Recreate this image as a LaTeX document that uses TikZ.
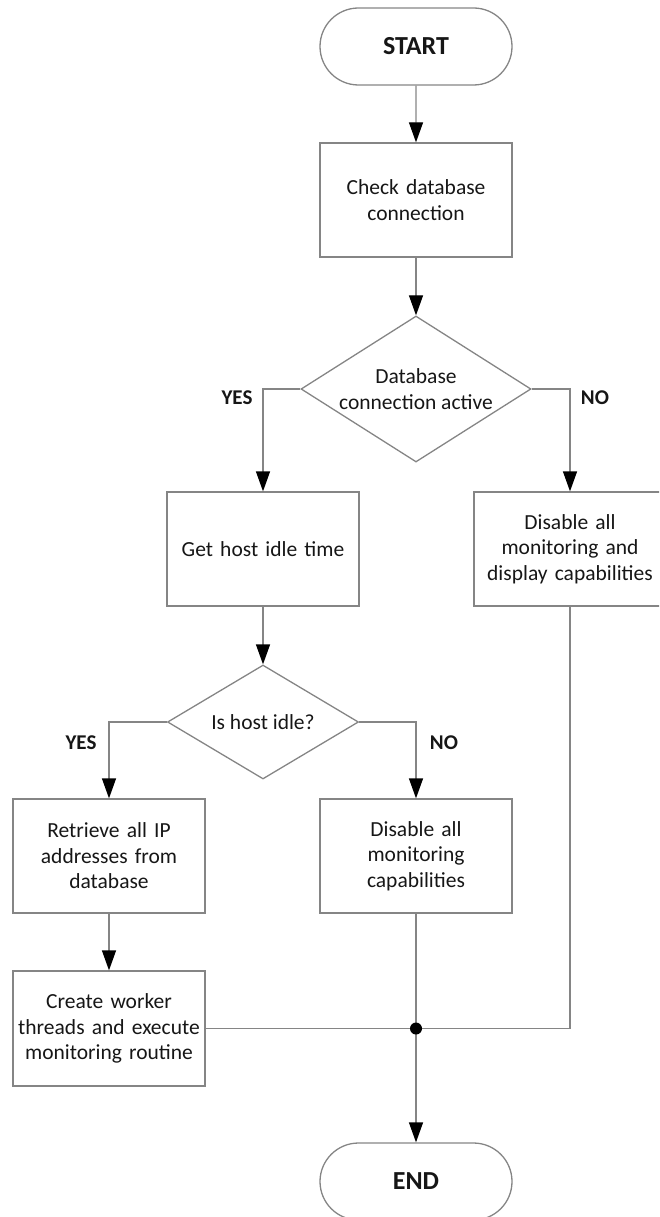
\documentclass[tikz,border=0pt]{standalone}
\usepackage{fontspec}
\setmainfont{Carlito}
\usetikzlibrary{shapes.geometric}
\usetikzlibrary{shapes.misc}
\usetikzlibrary{arrows.meta}
\definecolor{linegray}{HTML}{858585}
\definecolor{textgray}{HTML}{161616}
\tikzset{
	flownode/.style = {
		align=center,
		inner sep=0pt,
		text centered,
		font=\fontsize{21.5}{25.5}\selectfont,
		text=textgray,
		draw=linegray,
		line width=1.3pt
	},
	node_box/.style = {
		flownode,
		rectangle,
		text width=182pt,
		minimum width=192pt,
		minimum height=114pt
	},
	node_term/.style = {
		flownode,
		rounded rectangle,
		font=\fontsize{26}{30}\selectfont\bfseries,
		minimum width=192pt,
		minimum height=77pt
	},
	node_dec/.style = {
		flownode,
		diamond
	},
	node_label/.style = {
		font=\fontsize{21}{25}\selectfont\bfseries,
		text=textgray,
		inner sep=0pt
	},
	flowline/.style = {
		draw=linegray,
		line width=1.3pt
	},
	flowarrow/.style = {
		flowline,
		-{Triangle[length=20pt,width=14pt,color=black]}
	},
}

\begin{document}
\begin{tikzpicture}[x=1pt,y=-1pt]
\useasboundingbox (0,0) rectangle (659,1217);
\clip (0,0) rectangle (659,1217);
% nodes
\node [node_term] (start) at (416,46.5) {START};
\node [node_box] (check) at (416,200) {Check database\\connection};
\node [node_dec, minimum width=230pt, minimum height=146pt, shape aspect=1.57] (dbactive) at (416,389) {Database\\connection active};
\node [node_box] (idle) at (263,549) {Get host idle time};
\node [node_box] (disableall) at (570,549) {Disable all\\monitoring and\\display capabilities};
\node [node_dec, minimum width=191pt, minimum height=114pt, shape aspect=1.67] (isidle) at (263,722) {Is host idle?};
\node [node_box] (retrieve) at (109,856) {Retrieve all IP\\addresses from\\database};
\node [node_box] (disablemon) at (416,856) {Disable all\\monitoring\\capabilities};
\node [node_box, minimum height=115pt] (workers) at (109,1028.5) {Create worker\\threads and execute\\monitoring routine};
\node [node_term] (end) at (416,1181.5) {END};
\coordinate (join) at (416,1028.5);
% labels
\node [node_label] (yes1) at (237,398) {YES};
\node [node_label] (no1) at (595,398) {NO};
\node [node_label] (yes2) at (81,743) {YES};
\node [node_label] (no2) at (444,743) {NO};
% connectors
\draw [flowarrow] (start) -- (check);
\draw [flowarrow] (check) -- (dbactive);
\draw [flowarrow] (dbactive.west) -| (idle);
\draw [flowarrow] (dbactive.east) -| (disableall);
\draw [flowarrow] (idle) -- (isidle);
\draw [flowarrow] (isidle.west) -| (retrieve);
\draw [flowarrow] (isidle.east) -| (disablemon);
\draw [flowarrow] (retrieve) -- (workers);
\draw [flowline] (workers.east) -- (join);
\draw [flowline] (disableall.south) |- (join);
\draw [flowline] (disablemon) -- (join);
\draw [flowarrow] (join) -- (end);
\fill [black] (join) circle (6pt);
\end{tikzpicture}
\end{document}
